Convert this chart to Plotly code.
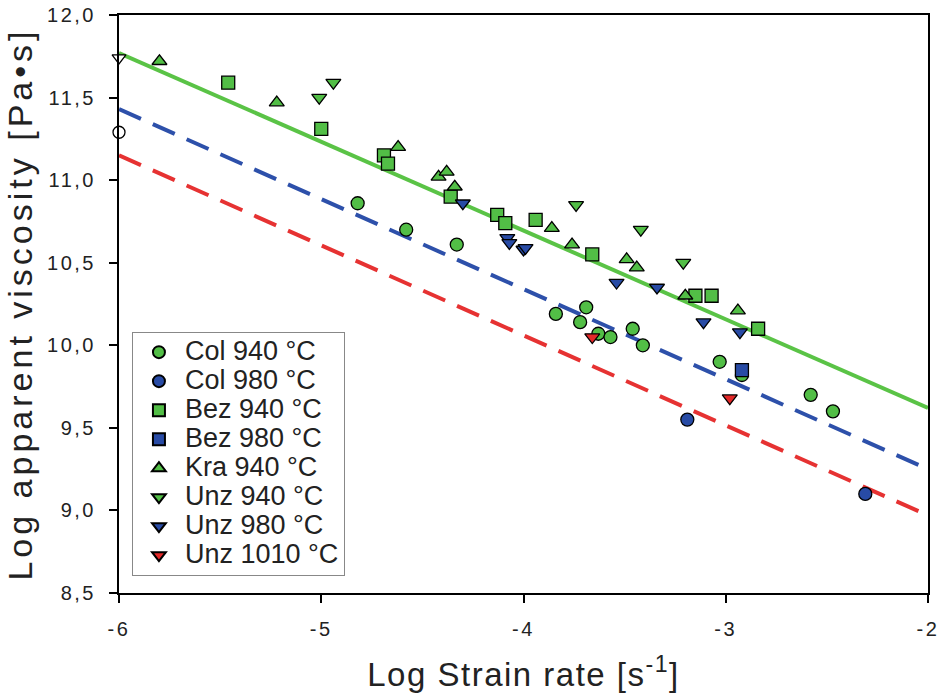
import plotly.graph_objects as go

# ---- data ----
col940_x = [-4.82, -4.58, -4.33, -3.84, -3.69, -3.72, -3.63, -3.57, -3.46, -3.41, -3.03, -2.92, -2.58, -2.47]
col940_y = [10.86, 10.70, 10.61, 10.19, 10.23, 10.14, 10.07, 10.05, 10.10, 10.00, 9.90, 9.82, 9.70, 9.60]
col980_x = [-3.19, -2.31]
col980_y = [9.55, 9.10]
bez940_x = [-5.46, -5.00, -4.69, -4.67, -4.36, -4.13, -4.09, -3.94, -3.66, -3.15, -3.07, -2.84]
bez940_y = [11.59, 11.31, 11.15, 11.10, 10.90, 10.79, 10.74, 10.76, 10.55, 10.30, 10.30, 10.10]
bez980_x = [-2.92]
bez980_y = [9.85]
kra940_x = [-5.80, -5.22, -4.62, -4.42, -4.38, -4.34, -3.86, -3.76, -3.49, -3.44, -3.20, -2.94]
kra940_y = [11.72, 11.47, 11.20, 11.02, 11.05, 10.96, 10.71, 10.61, 10.52, 10.47, 10.30, 10.21]
unz940_x = [-5.01, -4.94, -3.74, -3.42, -3.21]
unz940_y = [11.50, 11.59, 10.85, 10.70, 10.50]
unz980_x = [-4.30, -4.08, -4.07, -4.00, -3.99, -3.54, -3.34, -3.11, -2.93]
unz980_y = [10.86, 10.65, 10.62, 10.58, 10.59, 10.38, 10.35, 10.14, 10.08]
unz1010_x = [-3.66, -2.98]
unz1010_y = [10.05, 9.68]

fit_x = [-6, -2]
fit940_y = [11.77, 9.62]
fit980_y = [11.43, 9.25]
fit1010_y = [11.15, 8.97]

extrap_x = [-6, -6]
extrap_y = [11.74, 11.29]
extrap_symbols = ["triangle-down", "circle"]

x_ticks = [-6, -5, -4, -3, -2]
x_ticklabels = ["-6", "-5", "-4", "-3", "-2"]
y_ticks = [8.5, 9.0, 9.5, 10.0, 10.5, 11.0, 11.5, 12.0]
y_ticklabels = ["8,5", "9,0", "9,5", "10,0", "10,5", "11,0", "11,5", "12,0"]

GREEN = "rgb(82,190,70)"
BLUE = "rgb(40,75,165)"
RED = "rgb(228,40,40)"
LINE_GREEN = "rgb(90,195,70)"
LINE_BLUE = "rgb(45,80,170)"
LINE_RED = "rgb(230,50,50)"

TICK_SPAN = '<span style="letter-spacing:2.5px">{}</span>'
LEG_SPAN = '<span style="font-size:27px">{}</span>'

fig = go.Figure()

# fit lines (not in legend)
fig.add_trace(go.Scatter(x=fit_x, y=fit940_y, mode="lines", showlegend=False,
                         line=dict(color=LINE_GREEN, width=4)))
fig.add_trace(go.Scatter(x=fit_x, y=fit980_y, mode="lines", showlegend=False,
                         line=dict(color=LINE_BLUE, width=4, dash="24px,13px")))
fig.add_trace(go.Scatter(x=fit_x, y=fit1010_y, mode="lines", showlegend=False,
                         line=dict(color=LINE_RED, width=4, dash="24px,13px")))

series = [
    ("Col 940 °C", col940_x, col940_y, "circle", GREEN),
    ("Col 980 °C", col980_x, col980_y, "circle", BLUE),
    ("Bez 940 °C", bez940_x, bez940_y, "square", GREEN),
    ("Bez 980 °C", bez980_x, bez980_y, "square", BLUE),
    ("Kra 940 °C", kra940_x, kra940_y, "triangle-up", GREEN),
    ("Unz 940 °C", unz940_x, unz940_y, "triangle-down", GREEN),
    ("Unz 980 °C", unz980_x, unz980_y, "triangle-down", BLUE),
    ("Unz 1010 °C", unz1010_x, unz1010_y, "triangle-down", RED),
]
for name, xs, ys, sym, col in series:
    fig.add_trace(go.Scatter(
        x=xs, y=ys, mode="markers", name=LEG_SPAN.format(name),
        marker=dict(symbol=sym, size=13, color=col, line=dict(color="black", width=1.3)),
    ))

fig.add_trace(go.Scatter(x=extrap_x, y=extrap_y, mode="markers", showlegend=False,
                         cliponaxis=False,
                         marker=dict(symbol=extrap_symbols, size=12, color="white",
                                     line=dict(color="black", width=1.3))))

FONT = "Liberation Sans, Arial, sans-serif"

fig.update_layout(
    width=938, height=697,
    margin=dict(l=119, r=10, t=15, b=104),
    paper_bgcolor="white", plot_bgcolor="white",
    font=dict(family=FONT, color="#222"),
    showlegend=True,
    legend=dict(
        x=0.016, y=0.03, xanchor="left", yanchor="bottom",
        bgcolor="white", bordercolor="#888", borderwidth=1,
        font=dict(size=20, family=FONT, color="#222"),
        itemsizing="constant", itemwidth=42, tracegroupgap=0,
    ),
    xaxis=dict(
        range=[-6, -2], tickvals=x_ticks, ticktext=[TICK_SPAN.format(t) for t in x_ticklabels],
        automargin=False, ticklabeloverflow="allow",
        showgrid=False, zeroline=False,
        showline=True, linecolor="black", linewidth=2, mirror=True,
        ticks="outside", ticklen=8, tickwidth=1.5, tickcolor="black",
        ticklabelstandoff=9,
        tickfont=dict(size=20, family=FONT, color="#222"),
        title=dict(text='<span style="letter-spacing:1.5px">Log Strain rate [s<sup>-1</sup>]</span>',
                   font=dict(size=33, family=FONT, color="#222"),
                   standoff=24),
    ),
    yaxis=dict(
        range=[8.5, 12.0], tickvals=y_ticks, ticktext=[TICK_SPAN.format(t) for t in y_ticklabels],
        automargin=False, ticklabeloverflow="allow",
        showgrid=False, zeroline=False,
        showline=True, linecolor="black", linewidth=2, mirror=True,
        ticks="outside", ticklen=8, tickwidth=1.5, tickcolor="black",
        ticklabelstandoff=9,
        tickfont=dict(size=20, family=FONT, color="#222"),
        title=dict(text='<span style="letter-spacing:4px">Log apparent viscosity [Pa•s]</span>',
                   font=dict(size=34, family=FONT, color="#222"),
                   standoff=4),
    ),
)

fig.write_html("out.html")
